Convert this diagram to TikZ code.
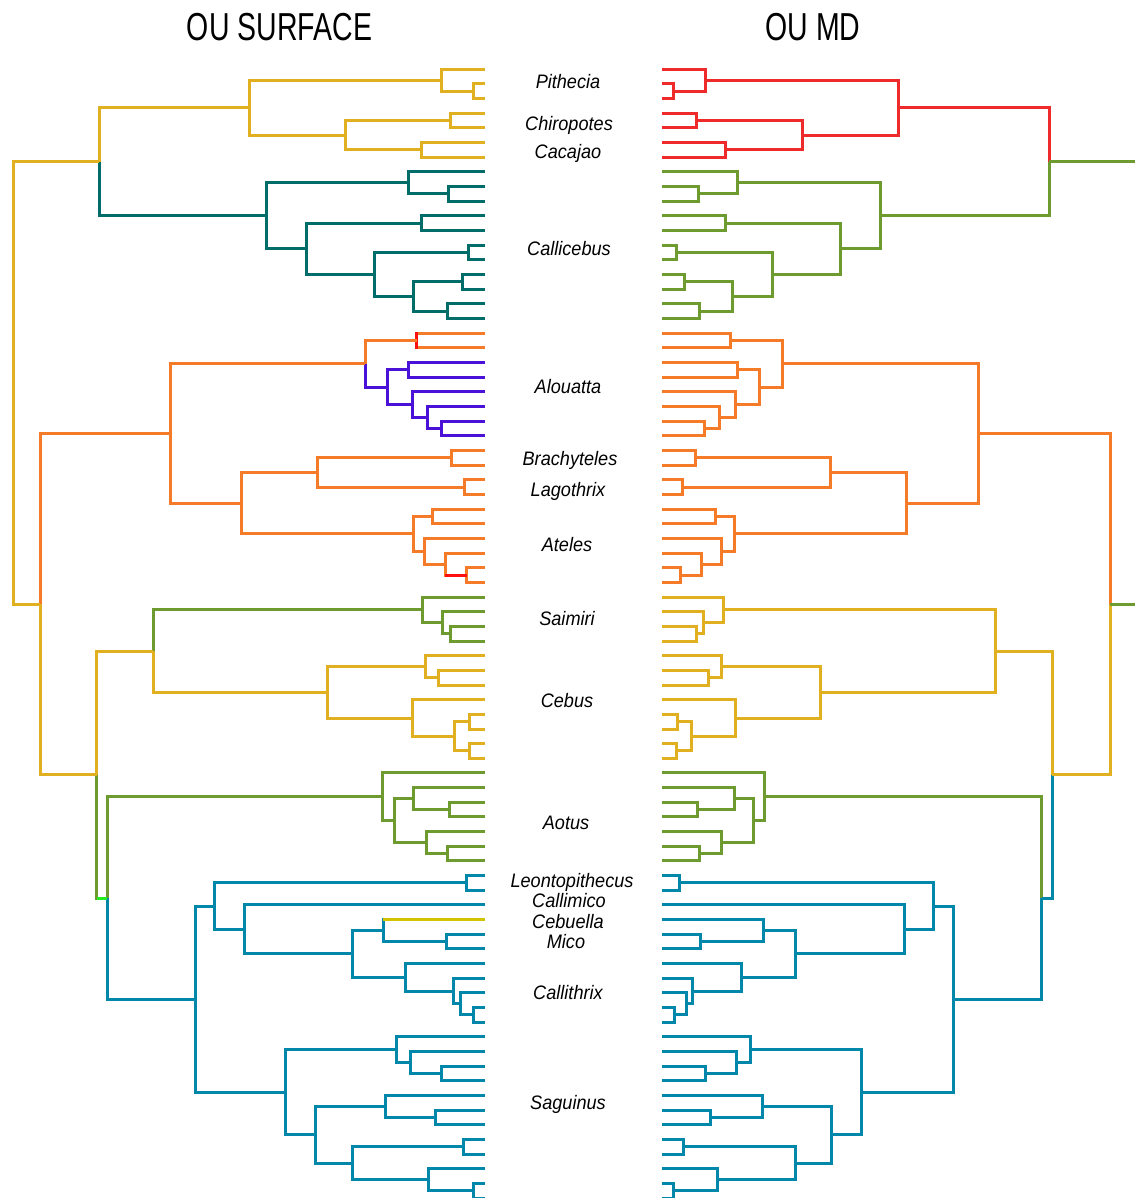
\documentclass[tikz,border=0pt]{standalone}
\usepackage{fontspec}
\setmainfont{Liberation Sans}
\newfontfamily\titlefont[FakeStretch=0.73]{Liberation Sans}
\newfontfamily\taxonfont[FakeStretch=0.93]{Liberation Sans}
\usetikzlibrary{calc}

\definecolor{cgold}{HTML}{E1B021}
\definecolor{cteal}{HTML}{006D6A}
\definecolor{corange}{HTML}{F57B28}
\definecolor{cred}{HTML}{FF1010}
\definecolor{credmd}{HTML}{EE2A2A}
\definecolor{cpurple}{HTML}{4A12D6}
\definecolor{cgreen}{HTML}{6E9B30}
\definecolor{cblue}{HTML}{0087A9}
\definecolor{cyg}{HTML}{D2C300}
\definecolor{cbright}{HTML}{22EE22}

% internal node: x position given, y halfway between its two children
\newcommand\tnode[4]{\path let \p1=($(#3)!0.5!(#4)$) in coordinate (#1) at (#2pt,\y1);}
% clade: name, x, child1, colour1, child2, colour2
\newcommand\clade[6]{\tnode{#1}{#2}{#3}{#5}\draw[#4] (#1) |- (#3); \draw[#6] (#1) |- (#5);}

\begin{document}
\begin{tikzpicture}[x=1pt,y=-1pt,line width=3pt,
  taxon/.style={anchor=base,inner sep=0pt,font={\taxonfont\itshape\fontsize{19.5pt}{21pt}\selectfont}},
  heading/.style={anchor=base,inner sep=0pt,font={\titlefont\fontsize{39pt}{40pt}\selectfont}}]
\useasboundingbox (0,0) rectangle (1134,1198);

% tips of both trees
\foreach \i in {1,...,78}{
  \coordinate (L\i) at (485,{69.3+(\i-1)*14.66});
  \coordinate (R\i) at (662,{69.3+(\i-1)*14.66});
}
\coordinate (rim) at (1140,0);

% ---------------- OU SURFACE (left tree) ----------------
% Pitheciinae
\clade{a1}{473}{L2}{cgold}{L3}{cgold}
\clade{a2}{441.7}{L1}{cgold}{a1}{cgold}
\clade{a3}{450}{L4}{cgold}{L5}{cgold}
\clade{a4}{421.7}{L6}{cgold}{L7}{cgold}
\clade{a5}{345}{a3}{cgold}{a4}{cgold}
\clade{a6}{249}{a2}{cgold}{a5}{cgold}
% Callicebus
\clade{t1}{448.3}{L9}{cteal}{L10}{cteal}
\clade{t2}{408.3}{L8}{cteal}{t1}{cteal}
\clade{t3}{421.7}{L11}{cteal}{L12}{cteal}
\clade{t4}{468.3}{L13}{cteal}{L14}{cteal}
\clade{t5}{462.7}{L15}{cteal}{L16}{cteal}
\clade{t6}{447.7}{L17}{cteal}{L18}{cteal}
\clade{t7}{413.3}{t5}{cteal}{t6}{cteal}
\clade{t8}{374}{t4}{cteal}{t7}{cteal}
\clade{t9}{306.7}{t3}{cteal}{t8}{cteal}
\clade{t10}{266.7}{t2}{cteal}{t9}{cteal}
\clade{top}{99.3}{a6}{cgold}{t10}{cteal}
% Atelidae
\clade{o1}{416.7}{L19}{corange}{L20}{corange}
\draw[cred,line cap=rect,line width=2.6pt] (o1 |- L19) -- (o1 |- L20);
\clade{o2}{408.3}{L21}{cpurple}{L22}{cpurple}
\clade{o3}{441.7}{L25}{cpurple}{L26}{cpurple}
\clade{o4}{427.3}{L24}{cpurple}{o3}{cpurple}
\clade{o5}{412.3}{L23}{cpurple}{o4}{cpurple}
\clade{o6}{387.7}{o2}{cpurple}{o5}{cpurple}
\clade{o7}{365}{o1}{corange}{o6}{cpurple}
\clade{o8}{451.7}{L27}{corange}{L28}{corange}
\clade{o9}{464}{L29}{corange}{L30}{corange}
\clade{o10}{317.3}{o8}{corange}{o9}{corange}
\clade{o11}{432.3}{L31}{corange}{L32}{corange}
\clade{o12}{466.7}{L35}{corange}{L36}{corange}
\clade{o13}{445}{L34}{corange}{o12}{corange}
\draw[cred] (o13 |- o12) -- (o12);
\clade{o14}{424.3}{L33}{corange}{o13}{corange}
\clade{o15}{413.3}{o11}{corange}{o14}{corange}
\clade{o16}{241.7}{o10}{corange}{o15}{corange}
\clade{o17}{170.7}{o7}{corange}{o16}{corange}
% Saimiri and Cebus
\clade{s1}{450}{L39}{cgreen}{L40}{cgreen}
\clade{s2}{442.7}{L38}{cgreen}{s1}{cgreen}
\clade{s3}{422.7}{L37}{cgreen}{s2}{cgreen}
\clade{c1}{438.3}{L42}{cgold}{L43}{cgold}
\clade{c2}{425.7}{L41}{cgold}{c1}{cgold}
\clade{c3}{469}{L45}{cgold}{L46}{cgold}
\clade{c4}{469}{L47}{cgold}{L48}{cgold}
\clade{c5}{454.3}{c3}{cgold}{c4}{cgold}
\clade{c6}{412.3}{L44}{cgold}{c5}{cgold}
\clade{c7}{327.3}{c2}{cgold}{c6}{cgold}
\clade{sc}{153.3}{s3}{cgreen}{c7}{cgold}
% Aotus
\clade{u1}{449.3}{L51}{cgreen}{L52}{cgreen}
\clade{u2}{413.3}{L50}{cgreen}{u1}{cgreen}
\clade{u3}{447.7}{L54}{cgreen}{L55}{cgreen}
\clade{u4}{426}{L53}{cgreen}{u3}{cgreen}
\clade{u5}{394}{u2}{cgreen}{u4}{cgreen}
\clade{u6}{382.7}{L49}{cgreen}{u5}{cgreen}
% Callitrichidae
\clade{b1}{466.7}{L56}{cblue}{L57}{cblue}
\clade{b2}{446}{L60}{cblue}{L61}{cblue}
\clade{b3}{383.3}{L59}{cblue}{b2}{cblue}
\draw[cyg] (b3 |- L59) -- (L59);
\clade{b4}{473.3}{L65}{cblue}{L66}{cblue}
\clade{b5}{460}{L64}{cblue}{b4}{cblue}
\clade{b6}{453.3}{L63}{cblue}{b5}{cblue}
\clade{b7}{405}{L62}{cblue}{b6}{cblue}
\clade{b8}{352.3}{b3}{cblue}{b7}{cblue}
\clade{b9}{244.3}{L58}{cblue}{b8}{cblue}
\clade{b10}{214.3}{b1}{cblue}{b9}{cblue}
\clade{b11}{441.7}{L69}{cblue}{L70}{cblue}
\clade{b12}{410}{L68}{cblue}{b11}{cblue}
\clade{b13}{396.7}{L67}{cblue}{b12}{cblue}
\clade{b14}{435.7}{L72}{cblue}{L73}{cblue}
\clade{b15}{385}{L71}{cblue}{b14}{cblue}
\clade{b16}{463.3}{L74}{cblue}{L75}{cblue}
\clade{b17}{473.3}{L77}{cblue}{L78}{cblue}
\clade{b18}{428.3}{L76}{cblue}{b17}{cblue}
\clade{b19}{352.3}{b16}{cblue}{b18}{cblue}
\clade{b20}{315.7}{b15}{cblue}{b19}{cblue}
\clade{b21}{285.7}{b13}{cblue}{b20}{cblue}
\clade{b22}{195}{b10}{cblue}{b21}{cblue}
% deep nodes
\clade{ab}{107.3}{u6}{cgreen}{b22}{cblue}
\clade{scab}{96.7}{sc}{cgold}{ab}{cgreen}
\draw[cbright] (scab |- ab) -- (ab);
\clade{oscab}{40}{o17}{corange}{scab}{cgold}
\clade{root}{13.3}{top}{cgold}{oscab}{cgold}

% ---------------- OU MD (right tree) ----------------
\clade{p1}{673.3}{R2}{credmd}{R3}{credmd}
\clade{p2}{705.7}{R1}{credmd}{p1}{credmd}
\clade{p3}{696.7}{R4}{credmd}{R5}{credmd}
\clade{p4}{725.7}{R6}{credmd}{R7}{credmd}
\clade{p5}{802.3}{p3}{credmd}{p4}{credmd}
\clade{p6}{898.3}{p2}{credmd}{p5}{credmd}
\clade{g1}{698.3}{R9}{cgreen}{R10}{cgreen}
\clade{g2}{737.7}{R8}{cgreen}{g1}{cgreen}
\clade{g3}{725}{R11}{cgreen}{R12}{cgreen}
\clade{g4}{676.7}{R13}{cgreen}{R14}{cgreen}
\clade{g5}{684}{R15}{cgreen}{R16}{cgreen}
\clade{g6}{699.3}{R17}{cgreen}{R18}{cgreen}
\clade{g7}{732.7}{g5}{cgreen}{g6}{cgreen}
\clade{g8}{772.3}{g4}{cgreen}{g7}{cgreen}
\clade{g9}{840.7}{g3}{cgreen}{g8}{cgreen}
\clade{g10}{880}{g2}{cgreen}{g9}{cgreen}
\clade{rtop}{1049.3}{p6}{credmd}{g10}{cgreen}
\draw[cgreen] (rtop) -- (rtop -| rim);
\clade{q1}{730}{R19}{corange}{R20}{corange}
\clade{q2}{737.7}{R21}{corange}{R22}{corange}
\clade{q3}{704}{R25}{corange}{R26}{corange}
\clade{q4}{719.3}{R24}{corange}{q3}{corange}
\clade{q5}{735}{R23}{corange}{q4}{corange}
\clade{q6}{759}{q2}{corange}{q5}{corange}
\clade{q7}{782.3}{q1}{corange}{q6}{corange}
\clade{q8}{695}{R27}{corange}{R28}{corange}
\clade{q9}{682.7}{R29}{corange}{R30}{corange}
\clade{q10}{830.7}{q8}{corange}{q9}{corange}
\clade{q11}{715}{R31}{corange}{R32}{corange}
\clade{q12}{680}{R35}{corange}{R36}{corange}
\clade{q13}{701}{R34}{corange}{q12}{corange}
\clade{q14}{721.7}{R33}{corange}{q13}{corange}
\clade{q15}{734.3}{q11}{corange}{q14}{corange}
\clade{q16}{906.7}{q10}{corange}{q15}{corange}
\clade{q17}{978.3}{q7}{corange}{q16}{corange}
\clade{r1}{696.7}{R39}{cgold}{R40}{cgold}
\clade{r2}{703.3}{R38}{cgold}{r1}{cgold}
\clade{r3}{723.3}{R37}{cgold}{r2}{cgold}
\clade{e1}{708.3}{R42}{cgold}{R43}{cgold}
\clade{e2}{721}{R41}{cgold}{e1}{cgold}
\clade{e3}{677.7}{R45}{cgold}{R46}{cgold}
\clade{e4}{676.7}{R47}{cgold}{R48}{cgold}
\clade{e5}{691.7}{e3}{cgold}{e4}{cgold}
\clade{e6}{735}{R44}{cgold}{e5}{cgold}
\clade{e7}{820}{e2}{cgold}{e6}{cgold}
\clade{rsc}{995}{r3}{cgold}{e7}{cgold}
\clade{v1}{697.7}{R51}{cgreen}{R52}{cgreen}
\clade{v2}{734.3}{R50}{cgreen}{v1}{cgreen}
\clade{v3}{699.3}{R54}{cgreen}{R55}{cgreen}
\clade{v4}{721}{R53}{cgreen}{v3}{cgreen}
\clade{v5}{753.3}{v2}{cgreen}{v4}{cgreen}
\clade{v6}{764}{R49}{cgreen}{v5}{cgreen}
\clade{d1}{679}{R56}{cblue}{R57}{cblue}
\clade{d2}{700.7}{R60}{cblue}{R61}{cblue}
\clade{d3}{763.3}{R59}{cblue}{d2}{cblue}
\clade{d4}{674}{R65}{cblue}{R66}{cblue}
\clade{d5}{686.7}{R64}{cblue}{d4}{cblue}
\clade{d6}{692.7}{R63}{cblue}{d5}{cblue}
\clade{d7}{741.7}{R62}{cblue}{d6}{cblue}
\clade{d8}{795}{d3}{cblue}{d7}{cblue}
\clade{d9}{904.3}{R58}{cblue}{d8}{cblue}
\clade{d10}{933.3}{d1}{cblue}{d9}{cblue}
\clade{d11}{705}{R69}{cblue}{R70}{cblue}
\clade{d12}{736.7}{R68}{cblue}{d11}{cblue}
\clade{d13}{750}{R67}{cblue}{d12}{cblue}
\clade{d14}{710.7}{R72}{cblue}{R73}{cblue}
\clade{d15}{762.3}{R71}{cblue}{d14}{cblue}
\clade{d16}{683.3}{R74}{cblue}{R75}{cblue}
\clade{d17}{673.3}{R77}{cblue}{R78}{cblue}
\clade{d18}{717.7}{R76}{cblue}{d17}{cblue}
\clade{d19}{795}{d16}{cblue}{d18}{cblue}
\clade{d20}{831.7}{d15}{cblue}{d19}{cblue}
\clade{d21}{861.7}{d13}{cblue}{d20}{cblue}
\clade{d22}{953.3}{d10}{cblue}{d21}{cblue}
\clade{rab}{1041.7}{v6}{cgreen}{d22}{cblue}
\clade{rscab}{1052}{rsc}{cgold}{rab}{cblue}
\clade{rbot}{1110}{q17}{corange}{rscab}{cgold}
\draw[cgreen] (rbot) -- (rbot -| rim);

% ---------------- headings and genus names ----------------
\node[heading] (hsurf) at (279.5,41) {OU SURFACE};
\node[heading] (hmd) at (813,41) {OU MD};

\node[taxon] (nPithecia) at (568,89) {Pithecia};
\node[taxon] (nChiropotes) at (569,131) {Chiropotes};
\node[taxon] (nCacajao) at (568,159) {Cacajao};
\node[taxon] (nCallicebus) at (569,255) {Callicebus};
\node[taxon] (nAlouatta) at (568,393) {Alouatta};
\node[taxon] (nBrachyteles) at (570,465) {Brachyteles};
\node[taxon] (nLagothrix) at (568,496) {Lagothrix};
\node[taxon] (nAteles) at (567,551) {Ateles};
\node[taxon] (nSaimiri) at (567,625) {Saimiri};
\node[taxon] (nCebus) at (567,707) {Cebus};
\node[taxon] (nAotus) at (566,829) {Aotus};
\node[taxon] (nLeontopithecus) at (572,887) {Leontopithecus};
\node[taxon] (nCallimico) at (569,907) {Callimico};
\node[taxon] (nCebuella) at (568,928) {Cebuella};
\node[taxon] (nMico) at (566,948) {Mico};
\node[taxon] (nCallithrix) at (568,999) {Callithrix};
\node[taxon] (nSaguinus) at (568,1109) {Saguinus};
\end{tikzpicture}
\end{document}
